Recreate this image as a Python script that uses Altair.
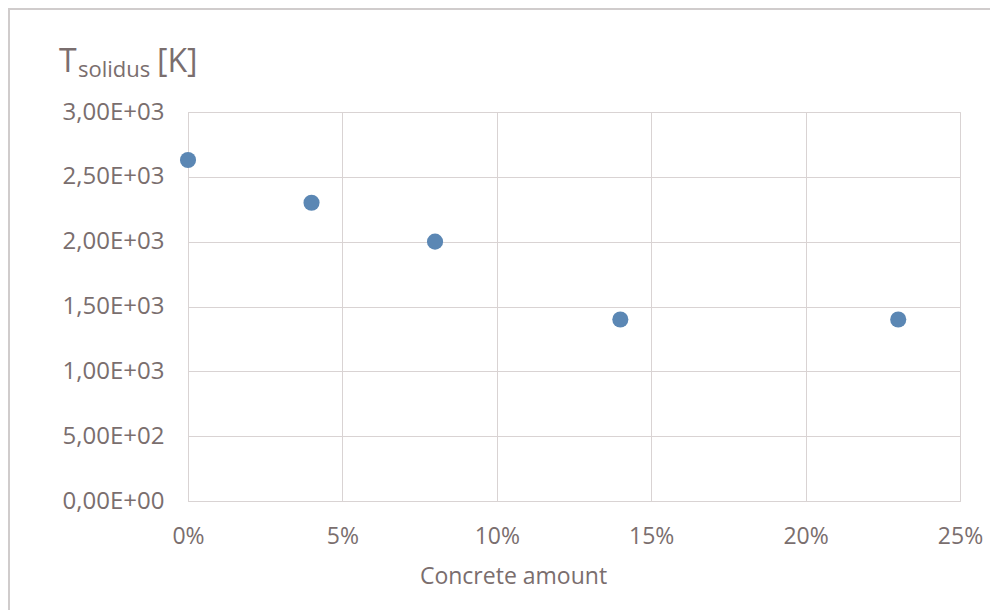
import altair as alt
import pandas as pd

concrete = [0.0, 0.04, 0.08, 0.14, 0.23]
t_solidus = [2630, 2300, 2000, 1400, 1400]

df = pd.DataFrame({"concrete": concrete, "T": t_solidus})

TXT = "#7a6e6e"
GRID = "#d9d3d3"
FONT = "Open Sans"

W, H = 772, 389
PL, PT = 180, 104

ylabel = ("datum.value == 0 ? '0,00E+00' : "
          "replace(format(datum.value / pow(10, floor(log(datum.value)/LN10 + 1e-9)), '.2f'), '.', ',') "
          "+ 'E+' + (floor(log(datum.value)/LN10 + 1e-9) < 10 ? '0' : '') + floor(log(datum.value)/LN10 + 1e-9)")

points = alt.Chart(df).mark_circle(size=260, opacity=1, color="#5b87b4").encode(
    x=alt.X("concrete:Q", scale=alt.Scale(domain=[0, 0.25], nice=False),
            axis=alt.Axis(title="Concrete amount", format=".0%", values=[0, 0.05, 0.1, 0.15, 0.2, 0.25],
                          grid=True, gridColor=GRID, domainColor=GRID, ticks=False, labelFlush=False,
                          labelPadding=24, labelFontSize=23, titleFontSize=23,
                          titleX=325, titleY=64, titleAlign="center", titleBaseline="top",
                          labelColor=TXT, titleColor=TXT, labelFont=FONT, titleFont=FONT,
                          titleFontWeight="normal")),
    y=alt.Y("T:Q", scale=alt.Scale(domain=[0, 3000], nice=False),
            axis=alt.Axis(title=None, values=[0, 500, 1000, 1500, 2000, 2500, 3000],
                          labelExpr=ylabel, grid=True, gridColor=GRID, domainColor=GRID,
                          ticks=False, labelPadding=24, labelFontSize=24, labelColor=TXT,
                          labelFont=FONT)),
)

t_big = alt.Chart(df.head(1)).mark_text(align="left", baseline="alphabetic", fontSize=32,
                                        font=FONT, color=TXT).encode(
    x=alt.value(-129), y=alt.value(-40), text=alt.value("T"))
t_sub = alt.Chart(df.head(1)).mark_text(align="left", baseline="alphabetic", fontSize=22,
                                        font=FONT, color=TXT).encode(
    x=alt.value(-110), y=alt.value(-35), text=alt.value("solidus"))
t_unit = alt.Chart(df.head(1)).mark_text(align="left", baseline="alphabetic", fontSize=32,
                                         font=FONT, color=TXT).encode(
    x=alt.value(-31), y=alt.value(-40), text=alt.value("[K]"))

border_top = alt.Chart(df.head(1)).mark_rule(color="#d0cccc", strokeWidth=2).encode(
    x=alt.value(-PL), x2=alt.value(W + 60), y=alt.value(-PT + 1))
border_left = alt.Chart(df.head(1)).mark_rule(color="#d0cccc", strokeWidth=2).encode(
    x=alt.value(-PL + 1), y=alt.value(-PT), y2=alt.value(H + 120))

chart = alt.layer(points, t_big, t_sub, t_unit, border_top, border_left).properties(
    width=W, height=H,
    padding={"left": PL, "top": PT, "right": 30, "bottom": 110},
    autosize=alt.AutoSizeParams(type="none"),
).configure_view(stroke=None).configure(background="white")

chart.save("out.html", embed_options={"renderer": "svg", "actions": False})
